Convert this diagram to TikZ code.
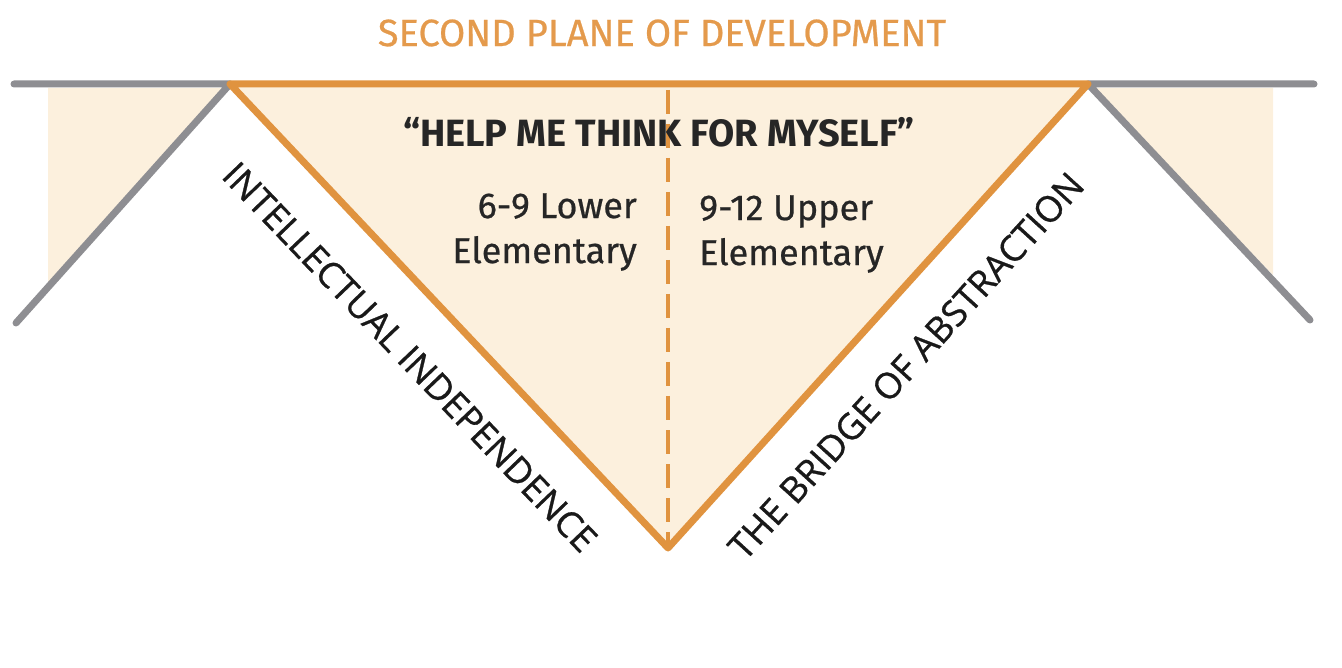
\documentclass[tikz,border=0pt]{standalone}
\usepackage{fontspec}
\setmainfont{Fira Sans}
\newfontfamily\fmed[FakeBold=0.6]{Fira Sans}
\newfontfamily\sidefont[FakeBold=0.8]{Open Sans}
\definecolor{orng}{HTML}{E0933F}
\definecolor{ttl}{HTML}{E49A4C}
\definecolor{cream}{HTML}{FCF0DD}
\definecolor{grayl}{HTML}{8E8E92}
\tikzset{
  grayline/.style={draw=grayl,line width=7pt,line cap=round,line join=round},
  orline/.style={draw=orng,line width=7pt,line cap=round,line join=round},
  dashline/.style={draw=orng,line width=4pt,dash pattern=on 24pt off 10pt},
  lbl/.style={font=\fmed\fontsize{36}{45}\selectfont,text=black!85,inner sep=0pt},
  sidelbl/.style={font=\sidefont\fontsize{36}{40}\selectfont,text=black!90,inner sep=0pt}
}
\begin{document}
\begin{tikzpicture}[x=1pt,y=-1pt]
\useasboundingbox (0,0) rectangle (1342,668);
% coordinates
\coordinate (L0) at (14,84);
\coordinate (TL) at (230,84);
\coordinate (LB) at (16,323);
\coordinate (TR) at (1088,84);
\coordinate (R0) at (1314,84);
\coordinate (RB) at (1310,320);
\coordinate (AP) at (668,548);
\coordinate (DT) at (668,90);
% fills
\fill[cream] (48,88) -- (226,88) -- (48,286) -- cycle;
\fill[cream] (1273,88) -- (1092,88) -- (1273,275) -- cycle;
\fill[cream] (TL) -- (TR) -- (AP) -- cycle;
% dashed middle line
\draw[dashline] (DT) -- (AP);
% gray lines
\draw[grayline] (L0) -- (TL) -- (LB);
\draw[grayline] (R0) -- (TR) -- (RB);
% orange triangle
\draw[orline] (TL) -- (TR) -- (AP) -- cycle;
% texts
\node[text=ttl,font=\fmed\fontsize{38}{44}\selectfont,inner sep=0pt] (title) at (662,33) {SECOND PLANE OF DEVELOPMENT};
\node[font=\bfseries\fontsize{38}{44}\selectfont,text=black!85,inner sep=0pt] (quote) at (659,132) {“HELP ME THINK FOR MYSELF”};
\node[lbl,anchor=east,align=right] (lower) at (637,232) {6-9 Lower\\Elementary};
\node[lbl,anchor=west,align=left] (upper) at (699,234) {9-12 Upper\\Elementary};
\node[sidelbl,rotate=-46.3] (intel) at (410,357) {INTELLECTUAL INDEPENDENCE};
\node[sidelbl,rotate=47.7] (bridge) at (906,366) {THE BRIDGE OF ABSTRACTION};
\end{tikzpicture}
\end{document}
